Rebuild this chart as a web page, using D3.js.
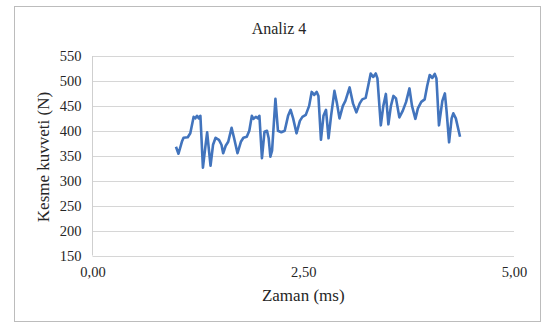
<!DOCTYPE html>
<html lang="tr">
<head>
  <meta charset="utf-8">
  <title>Analiz 4</title>
  <script src="https://cdn.jsdelivr.net/npm/d3@7"></script>
  <style>
    body { margin: 0; background: #fff; }
    svg text { font-family: "Liberation Serif", "DejaVu Serif", serif; fill: #262626; }
    .grid line { stroke: #d6d6d6; stroke-width: 1; }
  </style>
</head>
<body>
  <div id="chart"></div>
  <script>
    // zaman (ms) ve kesme kuvveti (N)
    const zaman = [0.99,1.02,1.06,1.08,1.13,1.16,1.20,1.22,1.24,1.26,1.28,1.31,1.34,1.36,1.40,1.43,1.46,1.50,1.53,1.55,
      1.58,1.61,1.65,1.68,1.72,1.76,1.79,1.83,1.86,1.89,1.91,1.94,1.96,1.98,2.01,2.04,2.07,2.09,2.11,2.13,
      2.17,2.20,2.24,2.28,2.32,2.35,2.38,2.42,2.46,2.49,2.53,2.57,2.60,2.63,2.66,2.68,2.71,2.74,2.77,2.80,
      2.83,2.87,2.90,2.93,2.97,3.00,3.05,3.09,3.13,3.17,3.20,3.24,3.27,3.30,3.33,3.36,3.38,3.42,3.45,3.48,
      3.51,3.54,3.57,3.60,3.64,3.68,3.72,3.76,3.79,3.83,3.86,3.90,3.94,3.97,4.00,4.03,4.06,4.08,4.11,4.15,
      4.18,4.20,4.23,4.26,4.28,4.31,4.36];
    const kuvvet = [368,354,378,386,387,395,428,425,430,425,430,326,370,397,330,372,386,382,372,355,
      370,378,406,385,355,378,386,388,400,430,424,428,425,430,345,398,400,385,348,360,
      464,400,397,400,430,442,425,395,420,428,432,450,478,472,478,470,382,430,442,385,
      430,480,455,425,450,460,487,455,437,455,463,466,490,515,508,515,505,411,450,474,
      413,450,470,465,427,440,458,485,450,424,445,458,463,490,512,506,514,505,411,460,
      475,440,377,425,435,425,388];
    const yTicks = [150,200,250,300,350,400,450,500,550];
    const xTicks = [0, 2.5, 5];

    const width = 541, height = 324;
    const svg = d3.select("#chart").append("svg")
      .attr("width", width).attr("height", height);

    // dış çerçeve
    svg.append("rect")
      .attr("x", 14.5).attr("y", 6.5)
      .attr("width", 526).attr("height", 315)
      .attr("fill", "#fff").attr("stroke", "#bcbcbc");

    const x = d3.scaleLinear().domain([0, 5]).range([92.5, 514]);
    const y = d3.scaleLinear().domain([150, 550]).range([255.5, 56]);

    // yatay ızgara çizgileri
    svg.append("g").attr("class", "grid")
      .selectAll("line").data(yTicks).enter().append("line")
      .attr("x1", x(0)).attr("x2", x(5))
      .attr("y1", d => Math.round(y(d)) + 0.5).attr("y2", d => Math.round(y(d)) + 0.5);

    // sol eksen çizgisi
    svg.append("line")
      .attr("x1", x(0)).attr("x2", x(0))
      .attr("y1", y(550)).attr("y2", y(150))
      .attr("stroke", "#cfcfcf");

    const fmt = d => d.toFixed(2).replace(".", ",");

    const yAxis = svg.append("g")
      .attr("transform", `translate(${x(0)},0)`)
      .call(d3.axisLeft(y).tickValues(yTicks).tickSize(0).tickPadding(11));

    const xAxis = svg.append("g")
      .attr("transform", `translate(0,${y(150)})`)
      .call(d3.axisBottom(x).tickValues(xTicks).tickFormat(fmt).tickSize(0).tickPadding(11));

    [yAxis, xAxis].forEach(a => {
      a.attr("font-family", null).attr("font-size", null);
      a.select(".domain").remove();
      a.selectAll("text").style("font-size", "14.5px");
    });

    // veri çizgisi
    const pts = zaman.map((t, i) => [t, kuvvet[i]]);
    svg.append("path")
      .datum(pts)
      .attr("fill", "none")
      .attr("stroke", "#4274bd")
      .attr("stroke-width", 2.6)
      .attr("stroke-linejoin", "round")
      .attr("d", d3.line().x(d => x(d[0])).y(d => y(d[1])));

    // başlıklar
    svg.append("text")
      .attr("x", 279).attr("y", 34)
      .attr("text-anchor", "middle")
      .style("font-size", "16px")
      .text("Analiz 4");

    svg.append("text")
      .attr("x", (x(0) + x(5)) / 2).attr("y", 301)
      .attr("text-anchor", "middle")
      .style("font-size", "17px")
      .text("Zaman (ms)");

    svg.append("text")
      .attr("transform", `translate(49,157) rotate(-90)`)
      .attr("text-anchor", "middle")
      .style("font-size", "17px")
      .text("Kesme kuvveti (N)");
  </script>
</body>
</html>
